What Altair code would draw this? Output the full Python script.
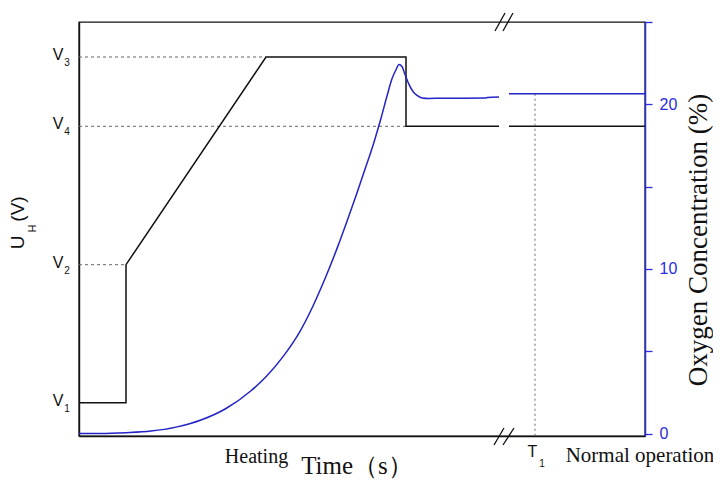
import altair as alt
import pandas as pd

# ---------------- data (time in arbitrary units, left axis in arbitrary voltage units) ----------------
V_NAMES = ["1", "2", "3", "4"]
V_VALUES = [33.3, 171.3, 379.0, 309.7]

# heater voltage profile
heat_t = [0, 47, 47, 187, 327, 327, 420, 430, 566]
heat_v = [33.3, 33.3, 171.3, 379.0, 379.0, 309.7, 309.7, 309.7, 309.7]
heat_seg = [0, 0, 0, 0, 0, 0, 0, 1, 1]

# oxygen concentration (%)
o2_t = [0, 22, 47, 72, 97, 122, 147, 172, 187, 205, 220, 234, 247, 259, 268, 277, 286,
        295, 302, 308, 313, 317, 320, 323, 326, 330, 334, 338, 343, 350, 362, 407, 408, 420,
        430, 566]
o2_v = [0.0, 0.0, 0.05, 0.15, 0.39, 0.82, 1.52, 2.60, 3.45, 4.75, 6.10, 7.75, 9.55, 11.40,
        12.90, 14.45, 16.05, 17.70, 19.15, 20.50, 21.55, 22.10, 22.42, 22.30, 21.81, 21.21,
        20.78, 20.54, 20.39, 20.36, 20.37, 20.38, 20.42, 20.44,
        20.64, 20.64]
o2_seg = [0] * 34 + [1, 1]

# dotted guide lines (level, end time)
guide_level = [379.0, 309.7, 171.3]
guide_end = [187, 327, 47]

T1 = 456
T1_O2 = 20.64

# axis-break slashes
brk_x1 = [416, 424, 415, 424]
brk_y1 = [405, 405, -9, -9]
brk_x2 = [426, 434, 425, 435]
brk_y2 = [423, 423, 8, 8]

LEFT_DOMAIN = [0, 414]
RIGHT_DOMAIN = [-0.15, 25]
X_DOMAIN = [0, 566]

BLUE = "#2323c8"
BLUE_AX = "#2b2be0"
SANS = "Liberation Sans"
SERIF = "Liberation Serif"

xs = alt.Scale(domain=X_DOMAIN, nice=False, zero=False)
x_axis = alt.Axis(title=None, labels=False, ticks=False, grid=False,
                  domainColor="#111", domainWidth=1.4)
ysL = alt.Scale(domain=LEFT_DOMAIN, nice=False, zero=False)
yL_axis = alt.Axis(title=None, labels=False, ticks=False, grid=False,
                   domainColor="#111", domainWidth=1.4, orient="left")


def XE(field):
    return alt.X(field, type="quantitative", scale=xs, axis=x_axis)


def YL(field):
    return alt.Y(field, type="quantitative", scale=ysL, axis=yL_axis)


heat_df = pd.DataFrame({"t": heat_t, "v": heat_v, "seg": heat_seg,
                        "i": list(range(len(heat_t)))})
o2_df = pd.DataFrame({"t": o2_t, "o2": o2_v, "seg": o2_seg, "i": list(range(len(o2_t)))})
guide_df = pd.DataFrame({"lvl": guide_level, "t0": [0] * 3, "t1": guide_end})
vlab_df = pd.DataFrame({"name": V_NAMES, "lvl": V_VALUES})
brk_df = pd.DataFrame({"x1": brk_x1, "y1": brk_y1, "x2": brk_x2, "y2": brk_y2})
one = pd.DataFrame({"a": [0]})

guides = alt.Chart(guide_df).mark_rule(color="#666", strokeDash=[3, 3], strokeWidth=1).encode(
    x=XE("t0"), x2="t1", y=YL("lvl"))

heat_line = alt.Chart(heat_df).mark_line(color="#111", strokeWidth=1.5).encode(
    x=XE("t"), y=YL("v"), detail="seg:N", order="i:Q")

brk = alt.Chart(brk_df).mark_rule(color="#111", strokeWidth=1.3).encode(
    x=XE("x1"), x2="x2", y=YL("y1"), y2="y2")

v_main = alt.Chart(vlab_df).mark_text(text="V", font=SANS, fontSize=16, color="#111",
                                      align="center", baseline="middle", dy=-2).encode(
    x=alt.value(-21), y=YL("lvl"))
v_sub = alt.Chart(vlab_df).mark_text(font=SANS, fontSize=10, color="#111",
                                     align="center", baseline="middle", dy=6).encode(
    x=alt.value(-12), y=YL("lvl"), text="name:N")


def txt(s, x, y, size, font, angle=0, baseline="middle", color="#111"):
    return alt.Chart(one).mark_text(text=s, font=font, fontSize=size, color=color,
                                    align="center", baseline=baseline, angle=angle).encode(
        x=alt.value(x), y=alt.value(y))


texts = [
    txt("U", -60.6, 220.5, 19, SANS, angle=270),
    txt("H", -46.5, 206.5, 11, SANS, angle=270),
    txt("(V)", -60.6, 187, 19, SANS, angle=270),
    txt("Heating", 177.5, 441, 20, SERIF, baseline="alphabetic"),
    txt("Time（s）", 278, 452, 25, SERIF, baseline="alphabetic"),
    txt("T", 453.5, 429.5, 16, SANS),
    txt("1", 463, 441.5, 10, SANS),
    txt("Normal operation", 561, 440, 21, SERIF, baseline="alphabetic"),
    txt("Oxygen Concentration (%)", 628, 218, 27, SERIF, angle=270, baseline="alphabetic"),
]

left = alt.layer(guides, heat_line, brk, v_main, v_sub, *texts)

ysR = alt.Scale(domain=RIGHT_DOMAIN, nice=False, zero=False)
yR_axis = alt.Axis(title=None, orient="right", values=[0, 5, 10, 15, 20, 25],
                   labelExpr="datum.value % 10 == 0 && datum.value < 25 ? datum.label : ''",
                   grid=False, domainColor=BLUE_AX, domainWidth=1.5, tickColor=BLUE_AX,
                   tickWidth=1.3, tickSize=7, labelColor=BLUE_AX, labelFont=SANS,
                   labelFontSize=16, labelPadding=7)


def YR(field):
    return alt.Y(field, type="quantitative", scale=ysR, axis=yR_axis)


o2_line = alt.Chart(o2_df).mark_line(color=BLUE, strokeWidth=1.5, interpolate="monotone").encode(
    x=XE("t"), y=YR("o2"), detail="seg:N", order="i:Q")

t1_rule = alt.Chart(pd.DataFrame({"t": [T1], "o": [T1_O2], "o0": [RIGHT_DOMAIN[0]]})).mark_rule(
    color="#666", strokeDash=[2, 3], strokeWidth=1).encode(x=XE("t"), y=YR("o"), y2="o0")

right = alt.layer(t1_rule, o2_line)

chart = alt.layer(left, right).resolve_scale(y="independent").properties(
    width=566, height=414,
    autosize=alt.AutoSizeParams(type="none"),
    padding={"left": 71, "top": 14, "right": 68, "bottom": 43},
).configure_view(stroke="#111", strokeWidth=1.4)

chart.save("out.html", embed_options={"renderer": "svg", "actions": False})
